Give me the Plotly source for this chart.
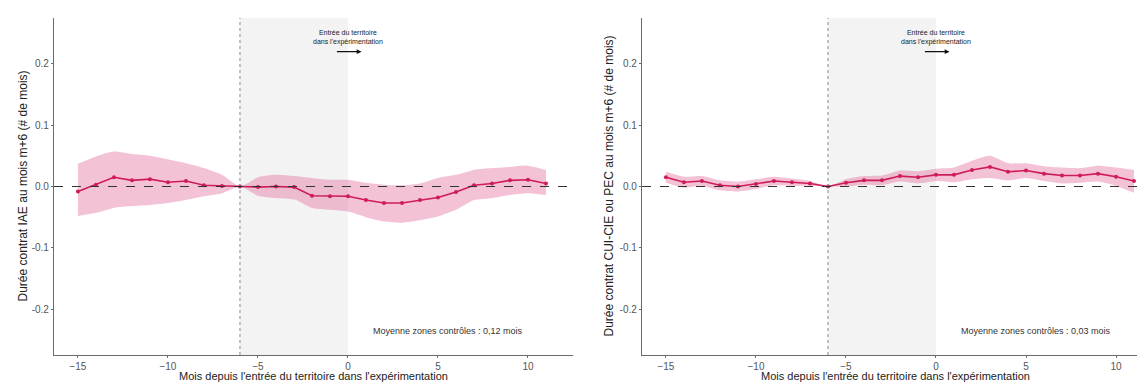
import plotly.graph_objects as go

# ---- data ----
months = list(range(-15, 12))

iae_est = [-0.008, 0.003, 0.015, 0.010, 0.012, 0.007, 0.009, 0.002, 0.001, 0.0,
           -0.001, 0.000, -0.001, -0.015, -0.016, -0.016, -0.022, -0.027, -0.027,
           -0.022, -0.018, -0.009, 0.002, 0.005, 0.010, 0.011, 0.005]
iae_hi = [0.037, 0.049, 0.057, 0.053, 0.050, 0.044, 0.038, 0.030, 0.019, 0.0,
          0.015, 0.019, 0.017, 0.014, 0.011, 0.011, 0.006, 0.003, 0.002,
          0.005, 0.014, 0.019, 0.027, 0.030, 0.032, 0.034, 0.027]
iae_lo = [-0.048, -0.043, -0.035, -0.032, -0.030, -0.027, -0.022, -0.016, -0.011, 0.0,
          -0.015, -0.019, -0.021, -0.035, -0.038, -0.041, -0.050, -0.057, -0.059,
          -0.055, -0.049, -0.038, -0.022, -0.019, -0.014, -0.011, -0.014]

cui_est = [0.015, 0.007, 0.009, 0.002, 0.000, 0.004, 0.009, 0.007, 0.005, 0.0,
           0.006, 0.010, 0.010, 0.017, 0.015, 0.019, 0.019, 0.027, 0.032,
           0.024, 0.026, 0.021, 0.018, 0.018, 0.021, 0.016, 0.009]
cui_hi = [0.024, 0.016, 0.017, 0.010, 0.008, 0.012, 0.016, 0.013, 0.009, 0.0,
          0.012, 0.017, 0.018, 0.026, 0.025, 0.029, 0.031, 0.042, 0.050,
          0.038, 0.038, 0.033, 0.031, 0.030, 0.034, 0.031, 0.027]
cui_lo = [0.006, -0.002, 0.001, -0.006, -0.008, -0.004, 0.002, 0.001, 0.001, 0.0,
          0.000, 0.003, 0.002, 0.008, 0.005, 0.009, 0.007, 0.012, 0.014,
          0.010, 0.014, 0.009, 0.005, 0.006, 0.008, 0.001, -0.010]

x_ticks = [-15, -10, -5, 0, 5, 10]
y_ticks = [0.2, 0.1, 0.0, -0.1, -0.2]
y_tick_text = ["0.2", "0.1", "0.0", "-0.1", "-0.2"]

y_titles = ["Durée contrat IAE au mois m+6 (# de mois)",
            "Durée contrat CUI-CIE ou PEC au mois m+6 (# de mois)"]
x_title = "Mois depuis l'entrée du territoire dans l'expérimentation"
notes = ["Moyenne zones contrôles : 0,12 mois", "Moyenne zones contrôles : 0,03 mois"]
entry_text = "Entrée du territoire<br>dans l'expérimentation"

# ---- figure ----
# The page body keeps its default 8px margin, so the figure is sized to the
# window minus that offset and positions are given in figure pixels.
W, H = 1137, 375
TOP, AXIS_Y = 10, 347          # plot area top / bottom in figure px
PH = AXIS_Y - TOP
LINE = "#cf1b5a"
BAND = "rgba(228, 110, 158, 0.42)"
FONT = "Liberation Sans, Arial, sans-serif"

fig = go.Figure()

panels = [(iae_est, iae_hi, iae_lo, "x", "y"), (cui_est, cui_hi, cui_lo, "x2", "y2")]
for est, hi, lo, xa, ya in panels:
    fig.add_trace(go.Scatter(x=months, y=hi, mode="lines", line=dict(width=0, shape="spline", smoothing=0.6),
                             xaxis=xa, yaxis=ya, showlegend=False, hoverinfo="skip"))
    fig.add_trace(go.Scatter(x=months, y=lo, mode="lines", line=dict(width=0, shape="spline", smoothing=0.6),
                             fill="tonexty", fillcolor=BAND,
                             xaxis=xa, yaxis=ya, showlegend=False, hoverinfo="skip"))
    fig.add_trace(go.Scatter(x=months, y=est, mode="lines+markers",
                             line=dict(color=LINE, width=1.6),
                             marker=dict(color=LINE, size=4),
                             xaxis=xa, yaxis=ya, showlegend=False))

axis_common = dict(
    showgrid=False, zeroline=False, showline=True, linecolor="#6a6a6a", linewidth=1.1,
    ticks="outside", ticklen=2, tickcolor="#6a6a6a",
    tickfont=dict(family=FONT, size=10, color="#555555"),
)

d1 = (46 / W, 565 / W)
d2 = (634 / W, 1.0)
fig.update_layout(
    width=W, height=H,
    margin=dict(l=0, r=0, t=TOP, b=H - AXIS_Y),
    plot_bgcolor="white", paper_bgcolor="white",
    font=dict(family=FONT),
    xaxis=dict(domain=d1, range=[-16.33, 12.5], tickvals=x_ticks, **axis_common),
    xaxis2=dict(domain=d2, range=[-16.33, 11.61], tickvals=x_ticks, anchor="y2", **axis_common),
    yaxis=dict(range=[-0.275, 0.275], tickvals=y_ticks, ticktext=y_tick_text, anchor="x", **axis_common),
    yaxis2=dict(range=[-0.275, 0.275], tickvals=y_ticks, ticktext=y_tick_text, anchor="x2", **axis_common),
)

shapes = []
annotations = []
ytitle_x = [14, 600]
xtitle_x = [305, 887]
for i, (xa, ya) in enumerate([("x", "y"), ("x2", "y2")]):
    shapes.append(dict(type="rect", xref=xa, yref=f"{ya} domain", x0=-6, x1=0, y0=0, y1=1,
                       fillcolor="rgba(215,215,215,0.3)", line=dict(width=0), layer="below"))
    shapes.append(dict(type="line", xref=xa, yref=f"{ya} domain", x0=-6, x1=-6, y0=0, y1=1,
                       line=dict(color="#8a8a8a", width=1, dash="dot")))
    shapes.append(dict(type="line", xref=f"{xa} domain", yref=ya, x0=0, x1=1, y0=0, y1=0,
                       line=dict(color="#333333", width=1, dash="dash")))
    annotations.append(dict(xref=xa, yref=ya, x=0, y=0.243, text=entry_text, showarrow=False,
                            font=dict(family=FONT, size=7, color="#222222"), align="center"))
    annotations.append(dict(xref=xa, yref=ya, x=0.75, y=0.22, ax=-0.7, ay=0.22, axref=xa, ayref=ya,
                            text="", showarrow=True, arrowhead=2, arrowsize=0.8, arrowwidth=1.2,
                            arrowcolor="#111111"))
    annotations.append(dict(xref=xa, yref=ya, x=5.55, y=-0.236, text=notes[i], showarrow=False,
                            font=dict(family=FONT, size=9, color="#333333")))
    annotations.append(dict(xref="paper", yref="paper", x=ytitle_x[i] / W, y=0.5, text=y_titles[i],
                            textangle=-90, showarrow=False, xanchor="center", yanchor="middle",
                            font=dict(family=FONT, size=12, color="#222222")))
    annotations.append(dict(xref="paper", yref="paper", x=xtitle_x[i] / W, y=(AXIS_Y - H) / PH,
                            text=x_title, showarrow=False, xanchor="center", yanchor="bottom",
                            borderpad=0,
                            font=dict(family=FONT, size=11, color="#222222")))

fig.update_layout(shapes=shapes, annotations=annotations)
fig.write_html("out.html")
